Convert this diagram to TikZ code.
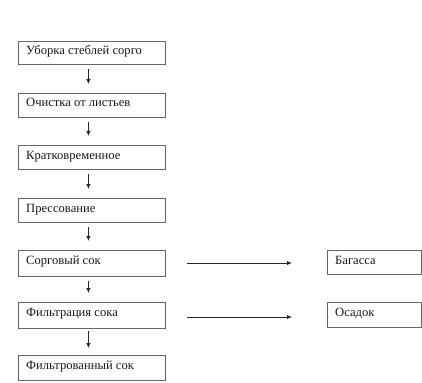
\documentclass[tikz,border=0pt]{standalone}
\usepackage{fontspec}
\setmainfont{Liberation Serif}
\usetikzlibrary{arrows.meta}
\begin{document}
\begin{tikzpicture}[x=1pt,y=-1pt,
  box/.style={draw=black!60,line width=0.8pt,rectangle,anchor=north west,inner sep=0pt},
  lbl/.style={anchor=base west,inner sep=0pt,font=\fontsize{12.6pt}{15pt}\selectfont,text=black!90},
  arr/.style={draw=black!85,line width=0.9pt,-{Latex[length=5pt,width=4.5pt]}}]
\useasboundingbox[fill=white] (0,0) rectangle (422,382);
\node[box,minimum width=147pt,minimum height=23pt] (b1) at (18,41) {};
\node[box,minimum width=147pt,minimum height=24pt] (b2) at (18,93) {};
\node[box,minimum width=147pt,minimum height=24pt] (b3) at (18,145) {};
\node[box,minimum width=147pt,minimum height=24pt] (b4) at (18,198) {};
\node[box,minimum width=147pt,minimum height=26pt] (b5) at (18,250) {};
\node[box,minimum width=147pt,minimum height=26pt] (b6) at (18,302) {};
\node[box,minimum width=147pt,minimum height=25pt] (b7) at (18,355) {};
\node[box,minimum width=94pt,minimum height=24pt] (r1) at (327,250) {};
\node[box,minimum width=94pt,minimum height=25pt] (r2) at (327,302) {};
\node[lbl] (t1) at ([shift={(8,14)}]b1.north west) {Уборка стеблей сорго};
\node[lbl] (t2) at ([shift={(8,14)}]b2.north west) {Очистка от листьев};
\node[lbl] (t3) at ([shift={(8,14)}]b3.north west) {Кратковременное};
\node[lbl] (t4) at ([shift={(8,14)}]b4.north west) {Прессование};
\node[lbl] (t5) at ([shift={(8,14)}]b5.north west) {Сорговый сок};
\node[lbl] (t6) at ([shift={(8,14)}]b6.north west) {Фильтрация сока};
\node[lbl] (t7) at ([shift={(8,14)}]b7.north west) {Фильтрованный сок};
\node[lbl] (t8) at ([shift={(8,14)}]r1.north west) {Багасса};
\node[lbl] (t9) at ([shift={(8,14)}]r2.north west) {Осадок};
\foreach \a/\b in {b1/b2,b2/b3,b3/b4,b4/b5,b5/b6}
  \draw[arr] ([shift={(-3.5,4)}]\a.south) -- ([shift={(-3.5,-9)}]\b.north);
\draw[arr] ([shift={(-3.5,2)}]b6.south) -- ([shift={(-3.5,-7)}]b7.north);
\coordinate (h1s) at (187,263);
\coordinate (h1e) at (292,263);
\coordinate (h2s) at (187,317);
\coordinate (h2e) at (292,317);
\draw[arr] (h1s) -- (h1e);
\draw[arr] (h2s) -- (h2e);
\end{tikzpicture}
\end{document}
